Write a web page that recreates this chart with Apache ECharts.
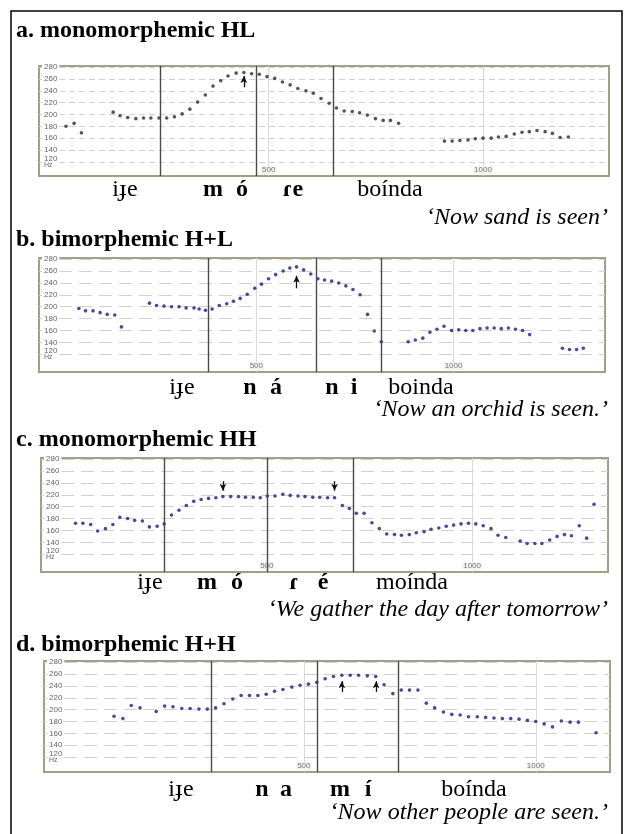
<!DOCTYPE html>
<html>
<head>
<meta charset="utf-8">
<script src="https://cdn.jsdelivr.net/npm/echarts@6/dist/echarts.min.js"></script>
<style>
html, body { margin: 0; padding: 0; background: #fff; }
#chart { width: 628px; height: 834px; }
</style>
</head>
<body>
<div id="chart"></div>
<script>
// F0 tracks, time in ms, pitch in Hz
var timeA = [27,46,63,137,153,171,190,208,225,244,262,280,298,316,334,352,370,388,405,424,442,460,478,496,514,532,550,568,587,604,622,641,658,676,695,712,730,749,767,784,803,910,928,946,965,982,1000,1019,1036,1054,1073,1091,1108,1126,1145,1162,1180,1199];
var hzA = [180,185,169,204,198,195,193,194,194,194,194,196,201,209,221,233,248,257,265,270,271,269,268,264,261,255,250,244,240,236,227,219,211,206,205,203,199,193,190,190,185,155,155,156,157,159,160,160,162,163,167,170,171,173,171,168,161,162];

var timeB = [50,67,86,104,122,141,158,229,247,266,285,304,322,342,355,371,388,406,425,442,459,477,496,513,531,549,568,585,602,620,638,656,673,691,709,727,745,763,782,799,817,885,903,922,940,958,976,995,1013,1031,1049,1067,1085,1103,1121,1139,1157,1175,1193,1276,1294,1312,1329];
var hzB = [197,193,193,190,187,186,166,206,202,201,200,200,198,198,196,194,196,202,205,209,214,221,231,238,247,254,260,265,267,262,255,247,245,243,240,235,229,220,187,159,141,141,144,147,157,162,167,160,161,160,160,163,164,164,163,164,162,160,153,130,128,128,130];

var timeC = [34,52,71,88,107,125,142,161,178,197,214,233,250,268,286,304,322,340,358,376,393,412,431,448,467,484,501,520,539,557,576,593,612,629,648,665,684,701,718,737,756,774,792,811,828,847,864,883,900,919,937,955,973,991,1009,1027,1046,1063,1082,1117,1134,1153,1170,1189,1207,1225,1242,1261,1279,1297];
var hzC = [172,172,170,159,163,170,182,180,177,176,166,167,171,186,194,202,209,212,214,215,217,217,217,216,216,215,218,218,221,219,218,217,216,216,215,215,202,197,189,189,173,163,154,153,152,153,156,158,162,164,167,169,171,172,171,168,163,152,148,142,138,138,138,144,150,153,151,168,147,204];

var timeD = [91,110,128,147,182,200,218,237,255,274,292,310,328,347,365,383,401,419,437,455,474,492,510,528,546,564,582,600,618,637,655,673,692,710,728,746,764,782,801,819,837,855,874,892,910,928,946,964,982,1000,1018,1036,1055,1074,1092,1130];
var hzD = [189,185,207,203,197,206,205,202,202,201,201,203,210,218,224,224,224,226,231,234,238,241,243,246,252,256,258,258,258,257,256,242,227,233,233,233,211,203,196,192,191,188,188,187,186,185,185,184,182,180,176,171,181,179,179,161];

// segment boundaries (ms)
var bordersA = [247, 471, 650];
var bordersB = [377, 653, 816];
var bordersC = [249, 500, 710];
var bordersD = [300, 530, 704];

// arrows: [ms, from Hz, to Hz]
var arrowsA = [[442, 246, 265]];
var arrowsB = [[602, 231, 252]];
var arrowsC = [[393, 243, 227], [665, 243, 227]];
var arrowsD = [[582, 230, 248], [656, 230, 248]];

// axis ticks
var hzTicks = [120, 140, 160, 180, 200, 220, 240, 260, 280];
var msTicks = [500, 1000];

// panel layout: plot box + axis ranges + text rows
var panels = [
  {
    title: 'a. monomorphemic HL', titleY: 31,
    box: {left: 39, top: 66, width: 570, height: 110},
    xRange: [-36, 1294], yRange: [96, 282],
    time: timeA, hz: hzA, borders: bordersA, arrows: arrowsA, dot: '#2a2a2a',
    dash: [6, 4], wordsY: 190,
    words: [['iɟe', 125, false], ['m', 213, true], ['ó', 242, true], ['ɾe', 293, true], ['boínda', 390, false]],
    gloss: '‘Now sand is seen’', glossY: 218
  },
  {
    title: 'b. bimorphemic H+L', titleY: 240,
    box: {left: 39, top: 258, width: 566, height: 114},
    xRange: [-51, 1384], yRange: [90, 282],
    time: timeB, hz: hzB, borders: bordersB, arrows: arrowsB, dot: '#1c1c80',
    dash: [13, 7], wordsY: 388,
    words: [['iɟe', 182, false], ['n', 250, true], ['á', 276, true], ['n', 332, true], ['i', 354, true], ['boinda', 421, false]],
    gloss: '‘Now an orchid is seen.’', glossY: 410
  },
  {
    title: 'c. monomorphemic HH', titleY: 440,
    box: {left: 41, top: 458, width: 567, height: 114},
    xRange: [-50, 1331], yRange: [90, 282],
    time: timeC, hz: hzC, borders: bordersC, arrows: arrowsC, dot: '#1c1c80',
    dash: [13, 7], wordsY: 583,
    words: [['iɟe', 150, false], ['m', 207, true], ['ó', 237, true], ['ɾ', 294, true], ['é', 323, true], ['moínda', 412, false]],
    gloss: '‘We gather the day after tomorrow’', glossY: 610
  },
  {
    title: 'd. bimorphemic H+H', titleY: 645,
    box: {left: 44, top: 661, width: 566, height: 111},
    xRange: [-60, 1160], yRange: [95, 282],
    time: timeD, hz: hzD, borders: bordersD, arrows: arrowsD, dot: '#1c1c80',
    dash: [13, 7], wordsY: 790,
    words: [['iɟe', 181, false], ['n', 262, true], ['a', 286, true], ['m', 340, true], ['í', 368, true], ['boínda', 474, false]],
    gloss: '‘Now other people are seen.’', glossY: 813
  }
];

var serif = '"Liberation Serif", "DejaVu Serif", serif';
var grids = [], xAxes = [], yAxes = [], series = [];
var graphics = [
  // outer frame
  {type: 'rect', shape: {x: 11, y: 11, width: 611, height: 840}, style: {fill: 'none', stroke: '#000', lineWidth: 1.5}, z: 10}
];

panels.forEach(function (p, i) {
  grids.push({
    left: p.box.left, top: p.box.top, width: p.box.width, height: p.box.height,
    show: true, borderColor: '#a19f88', borderWidth: 2, backgroundColor: '#fff'
  });

  xAxes.push({
    type: 'value', gridIndex: i, min: p.xRange[0], max: p.xRange[1],
    axisLine: {show: false},
    axisTick: {show: false, customValues: msTicks},
    axisLabel: {
      inside: true, customValues: msTicks, fontSize: 8, color: '#777',
      fontFamily: '"Liberation Sans", sans-serif', margin: 2,
      backgroundColor: '#f4f4f0', padding: [0, 1],
      formatter: function (v) { return String(v); }
    },
    splitLine: {show: true, lineStyle: {color: '#dadada', width: 1}}
  });

  yAxes.push({
    type: 'value', gridIndex: i, min: p.yRange[0], max: p.yRange[1],
    axisLine: {show: false},
    axisTick: {show: false, customValues: hzTicks},
    axisLabel: {
      inside: true, customValues: hzTicks, fontSize: 8, color: '#666', margin: 3,
      fontFamily: '"Liberation Sans", sans-serif',
      backgroundColor: '#fff', padding: [0, 2],
      formatter: function (v) {
        return v === 120 ? '{n|120}\n{h|Hz}' : String(v);
      },
      rich: {
        n: {fontSize: 8, lineHeight: 6, color: '#666'},
        h: {fontSize: 7, lineHeight: 6, color: '#666'}
      }
    },
    splitLine: {show: true, lineStyle: {color: '#d0d0d0', width: 1.2, type: p.dash}}
  });

  var marks = [];
  p.borders.forEach(function (t) {
    marks.push({xAxis: t, lineStyle: {color: '#4a4a4a', width: 1.4, type: 'solid'}});
  });
  p.arrows.forEach(function (a) {
    marks.push([
      {coord: [a[0], a[1]], symbol: 'none'},
      {coord: [a[0], a[2]], symbol: 'arrow', symbolSize: [5, 7], lineStyle: {color: '#111', width: 1.3, type: 'solid'}}
    ]);
  });

  series.push({
    type: 'scatter', xAxisIndex: i, yAxisIndex: i,
    data: p.time.map(function (t, k) { return [t, p.hz[k]]; }),
    symbolSize: 3.6,
    itemStyle: {color: p.dot},
    silent: true,
    markLine: {
      silent: true, symbol: 'none', animation: false,
      label: {show: false},
      data: marks
    }
  });

  // panel title
  graphics.push({
    type: 'text', x: 16, y: p.titleY,
    style: {text: p.title, font: 'bold 24px ' + serif, fill: '#000', verticalAlign: 'middle'}
  });
  // transcription row
  p.words.forEach(function (w) {
    graphics.push({
      type: 'text', x: w[1], y: p.wordsY,
      style: {
        text: w[0], font: (w[2] ? 'bold ' : '') + '24px ' + serif, fill: '#000',
        align: 'center', verticalAlign: 'middle'
      }
    });
  });
  // gloss
  graphics.push({
    type: 'text', x: 608, y: p.glossY,
    style: {text: p.gloss, font: 'italic 24px ' + serif, fill: '#000', align: 'right', verticalAlign: 'middle'}
  });
});

var chart = echarts.init(document.getElementById('chart'));
chart.setOption({
  animation: false,
  backgroundColor: '#fff',
  grid: grids,
  xAxis: xAxes,
  yAxis: yAxes,
  series: series,
  graphic: graphics
});
</script>
</body>
</html>
